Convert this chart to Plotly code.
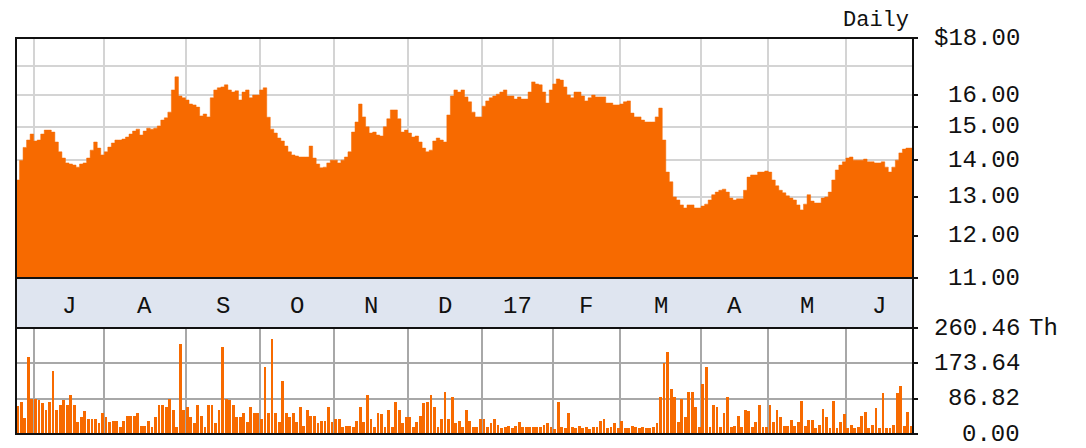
import math
import pandas as pd
import plotly.graph_objects as go

# Trading calendar: 24 Jun 2016 - 27 Jun 2017 (NYSE holidays removed)
holidays = ["2016-07-04", "2016-09-05", "2016-11-24", "2016-12-26", "2017-01-02",
            "2017-01-16", "2017-02-20", "2017-04-14", "2017-05-29"]
dates = pd.bdate_range("2016-06-24", "2017-06-27", freq="C", holidays=holidays)

# Daily closing price ($), one list per month
close_jun16 = [13.45, 14.00, 14.38, 14.60, 14.78]
close_jul = [14.57, 14.60, 14.78, 14.90, 14.90, 14.84, 14.54, 14.25, 14.07, 13.93,
             13.90, 13.87, 13.81, 13.90, 13.93, 14.07, 14.30, 14.54, 14.36, 14.16]
close_aug = [14.25, 14.39, 14.51, 14.60, 14.60, 14.63, 14.69, 14.78, 14.87, 14.93,
             14.75, 14.87, 14.96, 14.93, 14.96, 15.03, 15.21, 15.28, 15.46, 16.18,
             16.62, 15.98, 15.92]
close_sep = [15.85, 15.72, 15.69, 15.62, 15.34, 15.40, 15.31, 15.92, 16.18, 16.25,
             16.28, 16.35, 16.18, 16.11, 16.15, 15.85, 16.11, 16.18, 15.92, 16.01, 16.01]
close_oct = [16.18, 16.25, 15.30, 14.93, 14.81, 14.66, 14.57, 14.42, 14.25, 14.16,
             14.13, 14.10, 14.10, 14.10, 14.42, 14.07, 13.90, 13.79, 13.81, 13.93, 14.01]
close_nov = [14.01, 13.93, 14.01, 14.10, 14.25, 14.84, 15.15, 15.72, 15.31, 15.00,
             14.81, 14.84, 14.75, 14.72, 15.00, 15.25, 15.53, 15.53, 15.25, 14.84, 14.90]
close_dec = [14.81, 14.69, 14.72, 14.54, 14.36, 14.25, 14.30, 14.57, 14.66, 14.60,
             14.54, 15.37, 15.98, 16.18, 16.11, 16.18, 15.95, 15.79, 15.46, 15.31, 15.31]
close_jan = [15.65, 15.82, 15.92, 15.98, 16.04, 16.11, 16.18, 15.98, 15.98, 15.88,
             15.95, 15.88, 15.88, 16.11, 16.45, 16.38, 16.35, 16.11, 15.75, 16.18]
close_feb = [16.38, 16.55, 16.51, 16.28, 16.01, 15.92, 16.11, 16.11, 15.98, 15.82,
             15.92, 16.01, 15.95, 15.95, 15.95, 15.75, 15.75, 15.69, 15.69]
close_mar = [15.72, 15.79, 15.82, 15.43, 15.31, 15.31, 15.21, 15.15, 15.15, 15.15,
             15.31, 15.59, 14.60, 13.67, 13.40, 12.99, 12.91, 12.78, 12.70, 12.78,
             12.78, 12.70, 12.70]
close_apr = [12.75, 12.80, 12.91, 13.05, 13.12, 13.17, 13.20, 13.12, 12.96, 12.91,
             12.94, 12.94, 13.17, 13.53, 13.59, 13.59, 13.67, 13.67, 13.70]
close_may = [13.67, 13.45, 13.29, 13.17, 13.10, 13.02, 12.96, 12.91, 12.78, 12.65,
             12.80, 13.05, 12.88, 12.83, 12.83, 12.96, 12.99, 13.12, 13.45, 13.73,
             13.87, 13.96]
close_jun17 = [14.07, 14.10, 14.01, 14.01, 14.01, 14.04, 13.96, 13.96, 13.93, 13.93,
               13.96, 13.81, 13.67, 13.81, 14.01, 14.22, 14.33, 14.36, 14.36]

# Daily volume (thousands of shares)
vol_jun16 = [70, 78, 40, 188, 85]
vol_jul = [85, 83, 77, 59, 79, 156, 59, 71, 83, 71, 97, 71, 30, 43, 57, 38, 38, 38, 26, 52]
vol_aug = [43, 30, 33, 33, 18, 33, 45, 45, 45, 52, 20, 20, 32, 18, 43, 71, 71, 66, 85,
           59, 18, 221, 59]
vol_sep = [66, 43, 26, 71, 45, 18, 71, 71, 26, 59, 215, 85, 83, 71, 43, 43, 52, 30, 66, 52, 52]
vol_oct = [38, 164, 51, 233, 51, 30, 130, 51, 43, 52, 30, 66, 20, 59, 45, 45, 26, 33, 33, 66, 30]
vol_nov = [38, 38, 18, 20, 20, 18, 33, 66, 30, 97, 38, 18, 52, 48, 18, 59, 18, 78, 60, 26, 43]
vol_dec = [43, 18, 30, 45, 77, 79, 97, 66, 18, 38, 104, 38, 90, 26, 33, 18, 59, 33, 18, 18, 38]
vol_jan = [38, 18, 26, 38, 22, 14, 18, 20, 14, 20, 30, 16, 18, 18, 16, 16, 18, 22, 26, 18]
vol_feb = [12, 78, 18, 14, 52, 18, 14, 20, 14, 18, 12, 18, 16, 33, 38, 14, 18, 26, 14]
vol_mar = [33, 14, 14, 20, 18, 14, 16, 14, 14, 18, 26, 90, 174, 202, 110, 90, 30, 85, 43,
           104, 104, 66, 18]
vol_apr = [122, 164, 18, 71, 66, 18, 51, 90, 18, 20, 45, 16, 59, 57, 18, 30, 71, 18, 18]
vol_may = [71, 30, 59, 41, 20, 20, 35, 20, 29, 80, 20, 35, 35, 15, 21, 62, 41, 15, 80, 15, 29, 48]
vol_jun17 = [15, 22, 15, 16, 45, 53, 15, 22, 63, 15, 100, 15, 15, 22, 100, 117, 20, 53, 20]

month_labels = ["J", "A", "S", "O", "N", "D", "17", "F", "M", "A", "M", "J"]

price_ticks = [11, 12, 13, 14, 15, 16, 18]
price_tick_text = ["11.00", "12.00", "13.00", "14.00", "15.00", "16.00", "$18.00"]
vol_ticks = [0, 86.82, 173.64, 260.46]
vol_tick_text = ["0.00", "86.82", "173.64", "260.46"]

close = (close_jun16 + close_jul + close_aug + close_sep + close_oct + close_nov +
         close_dec + close_jan + close_feb + close_mar + close_apr + close_may + close_jun17)
volume = (vol_jun16 + vol_jul + vol_aug + vol_sep + vol_oct + vol_nov + vol_dec +
          vol_jan + vol_feb + vol_mar + vol_apr + vol_may + vol_jun17)

n = len(dates)
idx = list(range(n))
periods = [d.to_period("M") for d in dates]
month_starts = [i for i in idx if i > 0 and periods[i] != periods[i - 1]]
bounds = month_starts + [n]
month_centers = [(bounds[k] + bounds[k + 1]) / 2 - 0.5 for k in range(len(month_starts))]
grid_x = [s - 0.5 for s in month_starts]

ORANGE = "#f76a00"
INK = "#111111"
FONT = "Liberation Mono"
W, H = 1086, 448
ML, MR, MT, MB = 16, 173, 38, 14
plot_w = W - ML - MR
plot_h = H - MT - MB
vol_top = (434 - 328) / plot_h
band_top = (434 - 278) / plot_h

fig = go.Figure()

# price area as daily steps
step_x = [i - 0.5 for i in idx] + [n - 0.5]
step_y = close + [close[-1]]
fig.add_trace(go.Scatter(x=step_x, y=[10] * len(step_x), mode="lines",
                         line=dict(width=0), hoverinfo="skip", showlegend=False,
                         xaxis="x", yaxis="y"))
fig.add_trace(go.Scatter(x=step_x, y=step_y, mode="lines", line_shape="hv",
                         line=dict(color=ORANGE, width=0.5), fill="tonexty",
                         fillcolor=ORANGE, showlegend=False, xaxis="x", yaxis="y"))

# volume bars
fig.add_trace(go.Bar(x=idx, y=volume, width=0.8, marker=dict(color=ORANGE, line_width=0),
                     showlegend=False, xaxis="x3", yaxis="y3"))

xr = [-0.5, n - 0.5]
noline = dict(showline=False, zeroline=False)

fig.update_layout(
    width=W, height=H, margin=dict(l=ML, r=MR, t=MT, b=MB),
    paper_bgcolor="white", plot_bgcolor="white", bargap=0,
    xaxis=dict(domain=[0, 1], anchor="y", range=xr, tickvals=grid_x, showticklabels=False,
               ticks="", showgrid=True, gridcolor="#d4d4d4", gridwidth=2, **noline),
    yaxis=dict(domain=[band_top, 1], anchor="x", type="log",
               range=[math.log10(11), math.log10(18)], tickvals=price_ticks,
               showticklabels=False, side="right", ticks="outside", ticklen=4,
               tickwidth=1.5, tickcolor=INK, showgrid=True, gridcolor="#d4d4d4",
               gridwidth=2, minor=dict(tickvals=[17], showgrid=True, gridcolor="#d4d4d4",
                                       gridwidth=2, ticks=""), **noline),
    xaxis2=dict(domain=[0, 1], anchor="y2", range=xr, showticklabels=False, ticks="",
                showgrid=False, **noline),
    yaxis2=dict(domain=[vol_top, band_top], anchor="x2", range=[0, 1], showticklabels=False,
                ticks="", showgrid=False, **noline),
    xaxis3=dict(domain=[0, 1], anchor="y3", range=xr, tickvals=grid_x, showticklabels=False,
                ticks="", showgrid=True, gridcolor="#a8a8a8", gridwidth=1.5, **noline),
    yaxis3=dict(domain=[0, vol_top], anchor="x3", range=[0, vol_ticks[-1]], tickvals=vol_ticks,
                showticklabels=False, side="right", ticks="outside", ticklen=4, tickwidth=1.5,
                tickcolor=INK, showgrid=True, gridcolor="#a8a8a8", gridwidth=1.5, **noline),
    shapes=[
        dict(type="rect", xref="x2 domain", yref="y2 domain", x0=0, x1=1, y0=0, y1=1,
             fillcolor="#dfe5f0", line_width=0, layer="below"),
        dict(type="rect", xref="paper", yref="paper", x0=0, x1=1, y0=0, y1=1,
             line=dict(color=INK, width=2), fillcolor="rgba(0,0,0,0)"),
        dict(type="line", xref="paper", yref="paper", x0=0, x1=1, y0=band_top, y1=band_top,
             line=dict(color=INK, width=2)),
        dict(type="line", xref="paper", yref="paper", x0=0, x1=1, y0=vol_top, y1=vol_top,
             line=dict(color=INK, width=2)),
    ],
)

label_x = (1022 - ML) / plot_w
tfont = dict(family=FONT, size=24, color=INK)
ann = []
for v, t in zip(price_ticks, price_tick_text):
    ann.append(dict(xref="paper", yref="y", x=label_x, y=math.log10(v), text=t,
                    xanchor="right", yanchor="middle", showarrow=False, font=tfont))
for v, t in zip(vol_ticks, vol_tick_text):
    ann.append(dict(xref="paper", yref="y3", x=label_x, y=v, text=t,
                    xanchor="right", yanchor="middle", showarrow=False, font=tfont))
ann.append(dict(xref="paper", yref="y3", x=(1027 - ML) / plot_w, y=vol_ticks[-1], text="Th",
                xanchor="left", yanchor="middle", showarrow=False, font=tfont))
ann.append(dict(xref="paper", yref="paper", x=(911 - ML) / plot_w, y=(434 - 20) / plot_h,
                text="Daily", xanchor="right", yanchor="middle", showarrow=False,
                font=dict(family=FONT, size=22, color=INK)))
for c, t in zip(month_centers, month_labels):
    ann.append(dict(xref="x2", yref="y2 domain", x=c, y=0.5, yshift=-3, text=t,
                    xanchor="center", yanchor="middle", showarrow=False, font=tfont))
fig.update_layout(annotations=ann)

fig.write_html("out.html")
